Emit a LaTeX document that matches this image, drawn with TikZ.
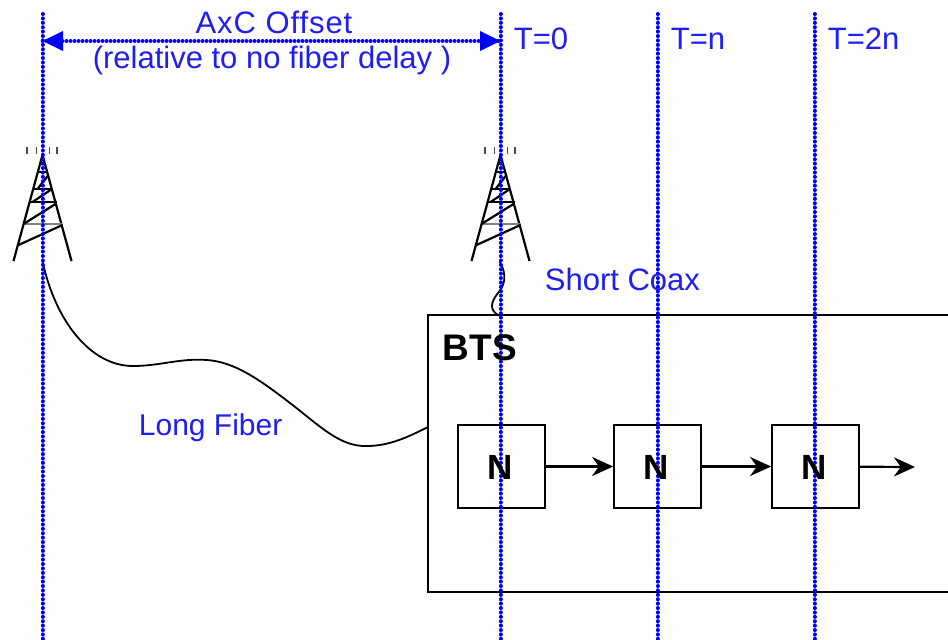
\documentclass[tikz,border=0pt]{standalone}
\usepackage{fontspec}
\setmainfont{Liberation Sans}
\newfontfamily\widefont[LetterSpace=3]{Liberation Sans}
\usetikzlibrary{arrows.meta}
\definecolor{axcblue}{RGB}{30,30,245}
\tikzset{
every picture/.style={
line width=1.8pt
},
timeline/.style={draw=blue, line width=4pt, line cap=round, dash pattern=on 0.1pt off 4.3pt},
label/.style={text=axcblue, font=\fontsize{31}{34}\selectfont, inner sep=0pt},
nbox/.style={draw, minimum width=87pt, minimum height=83pt, inner sep=0pt},
flow/.style={line width=2.2pt, -{Stealth[length=21pt,width=19pt]}},
tower/.pic={
  \draw [line width=2.2pt] (0,0) -- (-29,106) (0,0) -- (29,106);
  \draw [line width=2.2pt] (-4.5,17) -- (4.5,17) (-9.5,34) -- (9.5,34) (-14,47) -- (14,47);
  \draw [gray, line width=2.2pt] (-19,69) -- (19,69);
  \draw [line width=2.2pt] (-5,34) -- (6,20) (-10,47) -- (8,35) (-19,69) -- (13,49) (-24,90) -- (20,70);
  \foreach \dx in {-15.5,-6,7,14.5}{
    \draw [line width=1.8pt, gray!60!black] (\dx,-8) -- (\dx,-1);
  }
}
}

\begin{document}
\begin{tikzpicture}[x=1pt, y=-1pt]
\useasboundingbox (0,0) rectangle (948,640);

% towers
\pic at (42.5,155) {tower};
\pic at (500.5,155) {tower};
\coordinate (feedl) at (42.5,261);
\coordinate (feedr) at (500,262);

% bts and the chain
\node [draw, minimum width=540pt, minimum height=277pt, inner sep=0pt] (bts) at (698,453.5) {};
\foreach \x/\n in {501.5/n1, 657.5/n2, 815.5/n3}{
  \node [nbox] (\n) at (\x,466.5) {};
}
\coordinate (out) at (915,467);
\draw [flow] (n1) -- (n2);
\draw [flow] (n2) -- (n3);
\draw [flow] (n3) -- (out);

% cables
\coordinate (fiberend) at (428,427);
\coordinate (coaxend) at (498,315);
\draw (feedl) .. controls (55,320) and (90,366) .. (133,366) .. controls (160,366) and (180,358) .. (207,360) .. controls (235,362) and (260,380) .. (290,403) .. controls (320,426) and (340,447) .. (367,446) .. controls (390,446) and (410,436) .. (fiberend);
\draw (feedr) .. controls (507,275) and (505,285) .. (498,293) .. controls (490,303) and (490,310) .. (coaxend);

% time lines
\foreach \x/\t in {42.5/a, 500.5/b, 657.5/c, 814.5/d}{
  \coordinate (top\t) at (\x,14);
  \coordinate (bot\t) at (\x,640);
  \path [timeline] (top\t) -- (bot\t);
}
\coordinate (offa) at (42.5,41);
\coordinate (offb) at (500.5,41);
\path [timeline, line width=3.6pt, dash pattern=on 0.1pt off 3.9pt] (offa) -- (offb);
\fill [blue] (offa) -- (63,31) -- (63,51) -- cycle;
\fill [blue] (offb) -- (480,31) -- (480,51) -- cycle;

% text
\node [label, anchor=base] (offset) at (274,33) {\widefont AxC Offset};
\node [label, anchor=base] (relative) at (272,68) {(relative to no fiber delay )};
\node [label, anchor=base west] (t0) at (513,49) {T=0};
\node [label, anchor=base west] (tn) at (670,49) {T=n};
\node [label, anchor=base west] (t2n) at (827,49) {T=2n};
\node [label, anchor=base west] (coax) at (544,290) {Short Coax};
\node [label, anchor=base west, font=\fontsize{30}{33}\selectfont] (fiber) at (138,435) {Long Fiber};
\node [anchor=base west, inner sep=0pt, font=\bfseries\fontsize{37}{40}\selectfont] (btslabel) at (442,360) {BTS};
\foreach \x/\n in {500/n1, 656/n2, 814/n3}{
  \node [anchor=base, font=\bfseries\fontsize{35}{38}\selectfont, inner sep=0pt] (\n label) at (\x,479) {N};
}
\end{tikzpicture}
\end{document}
